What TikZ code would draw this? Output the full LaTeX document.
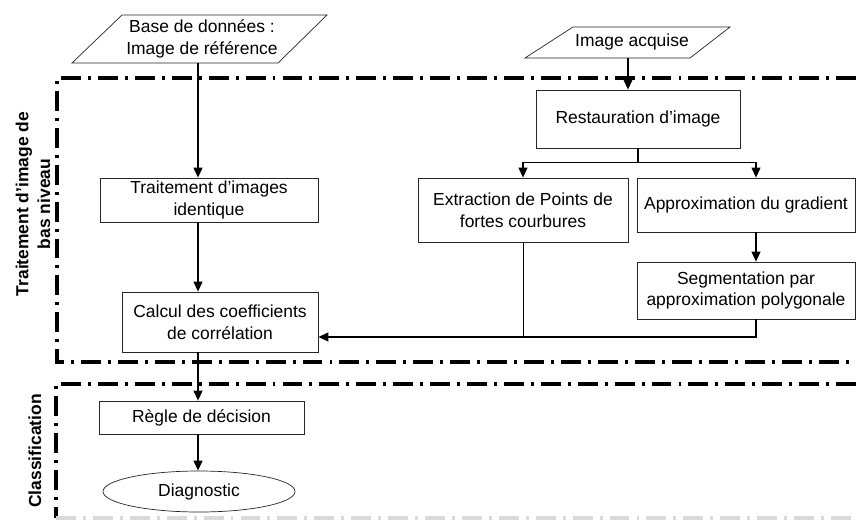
\documentclass[tikz,border=0pt]{standalone}
\usepackage{fontspec}
\setmainfont{Liberation Sans}
\usetikzlibrary{shapes.geometric,arrows.meta,positioning,calc}

\begin{document}
\begin{tikzpicture}[x=0.03cm, y=-0.03cm,
    box/.style={rectangle, draw=black!85, line width=0.6pt, align=center, font=\fontsize{14.9}{18.5}\selectfont, inner sep=1pt},
    iotxt/.style={align=center, font=\fontsize{14.9}{18.5}\selectfont, inner sep=0pt},
    ioline/.style={draw=black!85, line width=0.6pt, line join=miter},
    arr/.style={-{Triangle[length=8.5pt,width=7.5pt]}, line width=1.3pt},
    link/.style={line width=1.3pt},
    zone/.style={line width=2.6pt, dash pattern=on 17pt off 6pt on 2.5pt off 6pt},
    lbl/.style={font=\fontsize{14.9}{18.5}\selectfont\bfseries, rotate=90, align=center}
]
\useasboundingbox (0,0) rectangle (856,522);

% --- Zones ---
\draw[zone] (856,78) -- (57,78) -- (57,362) -- (856,362);
\draw[zone] (856,384) -- (56,384) -- (56,518);
\draw[zone, black!15] (56,518) -- (856,518);
\node[lbl] (zlow) at (33,204) {Traitement d'image de\\bas niveau};
\node[lbl] (zcls) at (35,451) {Classification};

% --- Columns for connectors ---
\coordinate (lcol) at (198,0);
\coordinate (acol) at (628,0);
\coordinate (rcol) at (756,0);

% --- Inputs (parallelograms) ---
\draw[ioline] (72,63) -- (122,15) -- (327,15) -- (278,63) -- cycle;
\node[iotxt] (base) at (202,39) {Base de données :\\Image de référence};
\coordinate (basebot) at (198,63);
\draw[ioline] (525,58) -- (573,27) -- (730,27) -- (690,58) -- cycle;
\node[iotxt] (acq) at (632,42) {Image acquise};
\coordinate (acqbot) at (628,58);

% --- Right branch ---
\node[box, minimum width=6.12cm, minimum height=1.74cm] (rest) at (638,119) {Restauration d'image};
\node[box, minimum width=6.3cm, minimum height=1.92cm] (extr) at (523,210) {Extraction de Points de\\fortes courbures};
\node[box, minimum width=6.54cm, minimum height=1.62cm] (appr) at (746,205) {Approximation du gradient};
\node[box, minimum width=6.54cm, minimum height=1.71cm] (seg) at (746,290.5) {Segmentation par\\approximation polygonale};

% --- Left branch ---
\node[box, minimum width=6.54cm, minimum height=1.32cm] (trait) at (209,200) {Traitement d'images\\identique};
\node[box, minimum width=5.88cm, minimum height=1.8cm] (calc) at (220,322) {Calcul des coefficients\\de corrélation};
\node[box, minimum width=6.15cm, minimum height=0.99cm] (regle) at (201.5,417.5) {Règle de décision};
\node[ellipse, draw=black!85, line width=0.6pt, minimum width=5.76cm, minimum height=1.23cm, font=\fontsize{14.9}{18.5}\selectfont] (diag) at (199,491.5) {Diagnostic};

% --- Connectors ---
\coordinate (br) at ($(rest.south)+(0,14)$);
\coordinate (jn) at ($(calc.east)+(0,15)$);
\draw[arr] (basebot) -- (trait.north -| lcol);
\draw[arr] (trait.south -| lcol) -- (calc.north -| lcol);
\draw[arr] (calc.south -| lcol) -- (regle.north -| lcol);
\draw[arr] (regle.south -| lcol) -- (diag.north -| lcol);
\draw[arr] (acqbot) -- (rest.north -| acol);
\draw[link] (rest.south) -- (br);
\draw[arr] (br) -| (extr.north);
\draw[arr] (br) -| (appr.north -| rcol);
\draw[arr] (appr.south -| rcol) -- (seg.north -| rcol);
\draw[line width=0.7pt] (extr.south) -- (extr.south |- jn);
\draw[arr] (seg.south -| rcol) |- (jn);
\end{tikzpicture}
\end{document}
